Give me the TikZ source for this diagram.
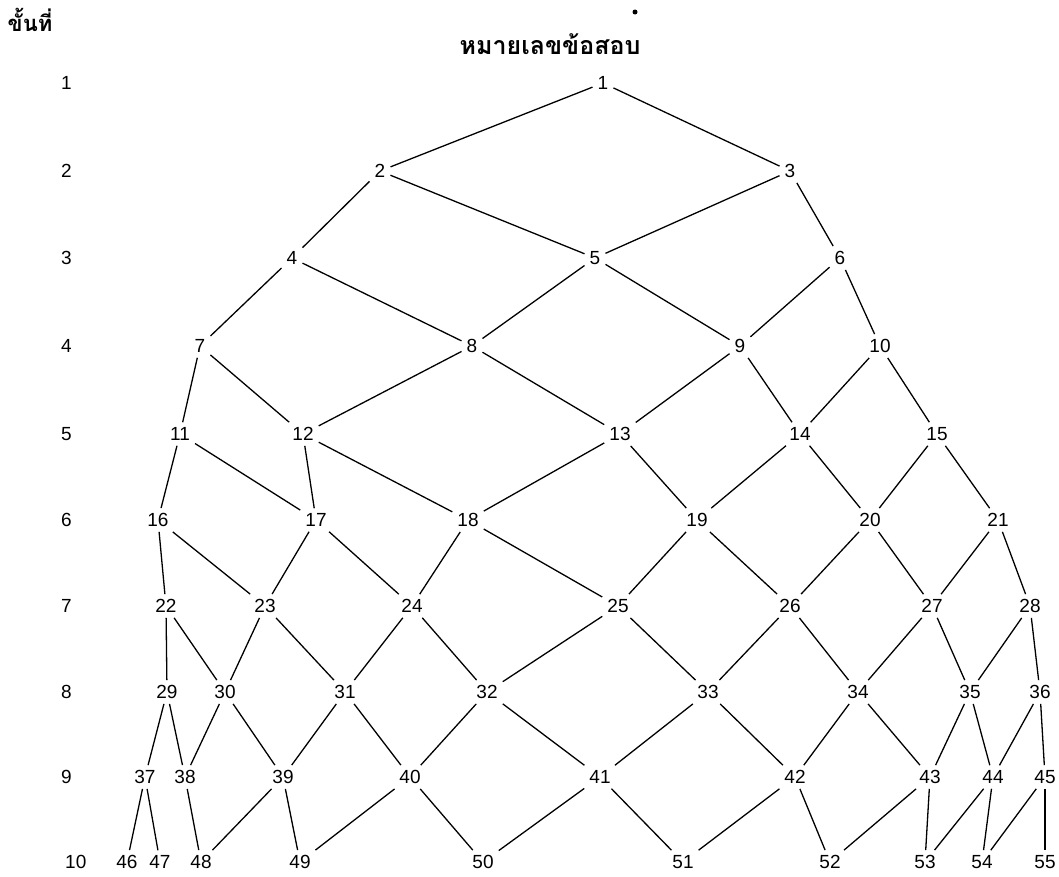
\documentclass[tikz,border=0pt]{standalone}
\usepackage{fontspec}
\setmainfont{Liberation Sans}
\newfontfamily\thaifont[Script=Thai]{Loma}
\usepackage{tikz}

\begin{document}
\begin{tikzpicture}[x=1pt, y=-1pt,
    num/.style={inner sep=5pt, font=\fontsize{19}{21}\selectfont},
    lvl/.style={anchor=west, inner sep=0pt, font=\fontsize{19}{21}\selectfont},
    head/.style={inner sep=0pt, font=\thaifont\bfseries\fontsize{25}{28}\selectfont},
    edge/.style={line width=1.3pt, black}]

    \useasboundingbox (0,0) rectangle (1059,876);

    % headings
    \node[head, font=\thaifont\bfseries\fontsize{22}{26}\selectfont] (hstep) at (30,20) {ขั้นที่};
    \node[head] (hitem) at (550,44) {หมายเลขข้อสอบ};
    \fill (635,12) circle (2.5);

    % level numbers
    \node[lvl] (s1) at (61,83) {1};
    \node[lvl] (s2) at (61,171) {2};
    \node[lvl] (s3) at (61,258) {3};
    \node[lvl] (s4) at (61,346) {4};
    \node[lvl] (s5) at (61,434) {5};
    \node[lvl] (s6) at (61,520) {6};
    \node[lvl] (s7) at (61,606) {7};
    \node[lvl] (s8) at (61,692) {8};
    \node[lvl] (s9) at (61,777) {9};
    \node[lvl] (s10) at (65,862) {10};

    % items, level 1-4
    \node[num] (n1) at (603,83) {1};
    \node[num] (n2) at (380,171) {2};
    \node[num] (n3) at (790,171) {3};
    \node[num] (n4) at (292,258) {4};
    \node[num] (n5) at (595,258) {5};
    \node[num] (n6) at (840,258) {6};
    \node[num] (n7) at (200,346) {7};
    \node[num] (n8) at (472,346) {8};
    \node[num] (n9) at (740,346) {9};
    \node[num] (n10) at (880,346) {10};

    % level 5-6
    \node[num] (n11) at (180,434) {11};
    \node[num] (n12) at (303,434) {12};
    \node[num] (n13) at (620,434) {13};
    \node[num] (n14) at (800,434) {14};
    \node[num] (n15) at (937,434) {15};
    \node[num] (n16) at (158,520) {16};
    \node[num] (n17) at (316,520) {17};
    \node[num] (n18) at (468,520) {18};
    \node[num] (n19) at (697,520) {19};
    \node[num] (n20) at (870,520) {20};
    \node[num] (n21) at (998,520) {21};

    % level 7-8
    \node[num] (n22) at (166,606) {22};
    \node[num] (n23) at (265,606) {23};
    \node[num] (n24) at (412,606) {24};
    \node[num] (n25) at (618,606) {25};
    \node[num] (n26) at (790,606) {26};
    \node[num] (n27) at (932,606) {27};
    \node[num] (n28) at (1030,606) {28};
    \node[num] (n29) at (167,692) {29};
    \node[num] (n30) at (225,692) {30};
    \node[num] (n31) at (345,692) {31};
    \node[num] (n32) at (487,692) {32};
    \node[num] (n33) at (708,692) {33};
    \node[num] (n34) at (858,692) {34};
    \node[num] (n35) at (970,692) {35};
    \node[num] (n36) at (1040,692) {36};

    % level 9-10
    \node[num] (n37) at (145,777) {37};
    \node[num] (n38) at (185,777) {38};
    \node[num] (n39) at (283,777) {39};
    \node[num] (n40) at (410,777) {40};
    \node[num] (n41) at (600,777) {41};
    \node[num] (n42) at (795,777) {42};
    \node[num] (n43) at (930,777) {43};
    \node[num] (n44) at (993,777) {44};
    \node[num] (n45) at (1045,777) {45};
    \node[num] (n46) at (127,862) {46};
    \node[num] (n47) at (160,862) {47};
    \node[num] (n48) at (201,862) {48};
    \node[num] (n49) at (300,862) {49};
    \node[num] (n50) at (483,862) {50};
    \node[num] (n51) at (683,862) {51};
    \node[num] (n52) at (830,862) {52};
    \node[num] (n53) at (925,862) {53};
    \node[num] (n54) at (982,862) {54};
    \node[num] (n55) at (1045,862) {55};

    % links
    \draw[edge] (n1) -- (n2);  \draw[edge] (n1) -- (n3);
    \draw[edge] (n2) -- (n4);  \draw[edge] (n2) -- (n5);
    \draw[edge] (n3) -- (n5);  \draw[edge] (n3) -- (n6);
    \draw[edge] (n4) -- (n7);  \draw[edge] (n4) -- (n8);
    \draw[edge] (n5) -- (n8);  \draw[edge] (n5) -- (n9);
    \draw[edge] (n6) -- (n9);  \draw[edge] (n6) -- (n10);
    \draw[edge] (n7) -- (n11);  \draw[edge] (n7) -- (n12);
    \draw[edge] (n8) -- (n12);  \draw[edge] (n8) -- (n13);
    \draw[edge] (n9) -- (n13);  \draw[edge] (n9) -- (n14);
    \draw[edge] (n10) -- (n14); \draw[edge] (n10) -- (n15);
    \draw[edge] (n11) -- (n16); \draw[edge] (n11) -- (n17);
    \draw[edge] (n12) -- (n17); \draw[edge] (n12) -- (n18);
    \draw[edge] (n13) -- (n18); \draw[edge] (n13) -- (n19);
    \draw[edge] (n14) -- (n19); \draw[edge] (n14) -- (n20);
    \draw[edge] (n15) -- (n20); \draw[edge] (n15) -- (n21);
    \draw[edge] (n16) -- (n22); \draw[edge] (n16) -- (n23);
    \draw[edge] (n17) -- (n23); \draw[edge] (n17) -- (n24);
    \draw[edge] (n18) -- (n24); \draw[edge] (n18) -- (n25);
    \draw[edge] (n19) -- (n25); \draw[edge] (n19) -- (n26);
    \draw[edge] (n20) -- (n26); \draw[edge] (n20) -- (n27);
    \draw[edge] (n21) -- (n27); \draw[edge] (n21) -- (n28);
    \draw[edge] (n22) -- (n29); \draw[edge] (n22) -- (n30);
    \draw[edge] (n23) -- (n30); \draw[edge] (n23) -- (n31);
    \draw[edge] (n24) -- (n31); \draw[edge] (n24) -- (n32);
    \draw[edge] (n25) -- (n32); \draw[edge] (n25) -- (n33);
    \draw[edge] (n26) -- (n33); \draw[edge] (n26) -- (n34);
    \draw[edge] (n27) -- (n34); \draw[edge] (n27) -- (n35);
    \draw[edge] (n28) -- (n35); \draw[edge] (n28) -- (n36);
    \draw[edge] (n29) -- (n37); \draw[edge] (n29) -- (n38);
    \draw[edge] (n30) -- (n38); \draw[edge] (n30) -- (n39);
    \draw[edge] (n31) -- (n39); \draw[edge] (n31) -- (n40);
    \draw[edge] (n32) -- (n40); \draw[edge] (n32) -- (n41);
    \draw[edge] (n33) -- (n41); \draw[edge] (n33) -- (n42);
    \draw[edge] (n34) -- (n42); \draw[edge] (n34) -- (n43);
    \draw[edge] (n35) -- (n43); \draw[edge] (n35) -- (n44);
    \draw[edge] (n36) -- (n44); \draw[edge] (n36) -- (n45);
    \draw[edge] (n37) -- (n46); \draw[edge] (n37) -- (n47);
    \draw[edge] (n38) -- (n48);
    \draw[edge] (n39) -- (n48); \draw[edge] (n39) -- (n49);
    \draw[edge] (n40) -- (n49); \draw[edge] (n40) -- (n50);
    \draw[edge] (n41) -- (n50); \draw[edge] (n41) -- (n51);
    \draw[edge] (n42) -- (n51); \draw[edge] (n42) -- (n52);
    \draw[edge] (n43) -- (n52); \draw[edge] (n43) -- (n53);
    \draw[edge] (n44) -- (n53); \draw[edge] (n44) -- (n54);
    \draw[edge] (n45) -- (n54); \draw[edge] (n45) -- (n55);
\end{tikzpicture}
\end{document}
